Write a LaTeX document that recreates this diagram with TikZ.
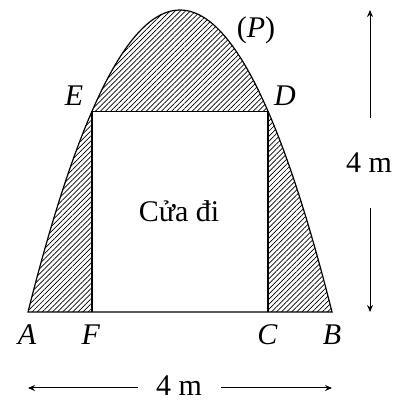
\documentclass[tikz,border=0pt]{standalone}
\usepackage{fontspec}
\setmainfont{Liberation Serif}
\usetikzlibrary{patterns.meta,arrows.meta}
\begin{document}
\begin{tikzpicture}[x=0.5pt,y=0.5pt,
  lbl/.style={font=\fontsize{15}{18}\selectfont, anchor=base, inner sep=0pt},
  edge/.style={line width=0.6pt},
  hatch/.style={pattern={Lines[angle=45,distance=1.8pt,line width=0.35pt]}},
  dim/.style={line width=0.5pt, -{Stealth[length=3.5pt,width=3pt]}}]
\useasboundingbox (0,0) rectangle (398,400);
% key points
\coordinate (A) at (28,88);
\coordinate (B) at (332,88);
\coordinate (F) at (92,88);
\coordinate (C) at (268,88);
\coordinate (E) at (92,288.8);
\coordinate (D) at (268,288.8);
\coordinate (Q1) at (129.33,490.67);
\coordinate (Q2) at (230.67,490.67);
% hatched region
\fill[hatch] (A) .. controls (Q1) and (Q2) .. (B) -- cycle;
\fill[white] (F) rectangle (D);
\draw[edge] (A) .. controls (Q1) and (Q2) .. (B) -- cycle;
\draw[edge] (F) -- (E) -- (D) -- (C);
% labels
\node[lbl] (lP) at (256,362) {(\textit{P})};
\node[lbl] (lE) at (74,294) {\textit{E}};
\node[lbl] (lD) at (285,294) {\textit{D}};
\node[lbl] (lA) at (27,55) {\textit{A}};
\node[lbl] (lF) at (91,55) {\textit{F}};
\node[lbl] (lC) at (267.5,55) {\textit{C}};
\node[lbl] (lB) at (332,55) {\textit{B}};
\node[lbl] (door) at (179,178) {Cửa đi};
% vertical dimension
\node[lbl] (vm) at (369,227) {4 m};
\coordinate (vt1) at (370,282);
\coordinate (vt2) at (370,390);
\coordinate (vb1) at (370,192);
\coordinate (vb2) at (370,88);
\draw[dim] (vt1) -- (vt2);
\draw[dim] (vb1) -- (vb2);
% horizontal dimension
\node[lbl] (hm) at (179,4) {4 m};
\coordinate (hl1) at (138,12);
\coordinate (hl2) at (28,12);
\coordinate (hr1) at (221,12);
\coordinate (hr2) at (332,12);
\draw[dim] (hl1) -- (hl2);
\draw[dim] (hr1) -- (hr2);
\end{tikzpicture}
\end{document}
